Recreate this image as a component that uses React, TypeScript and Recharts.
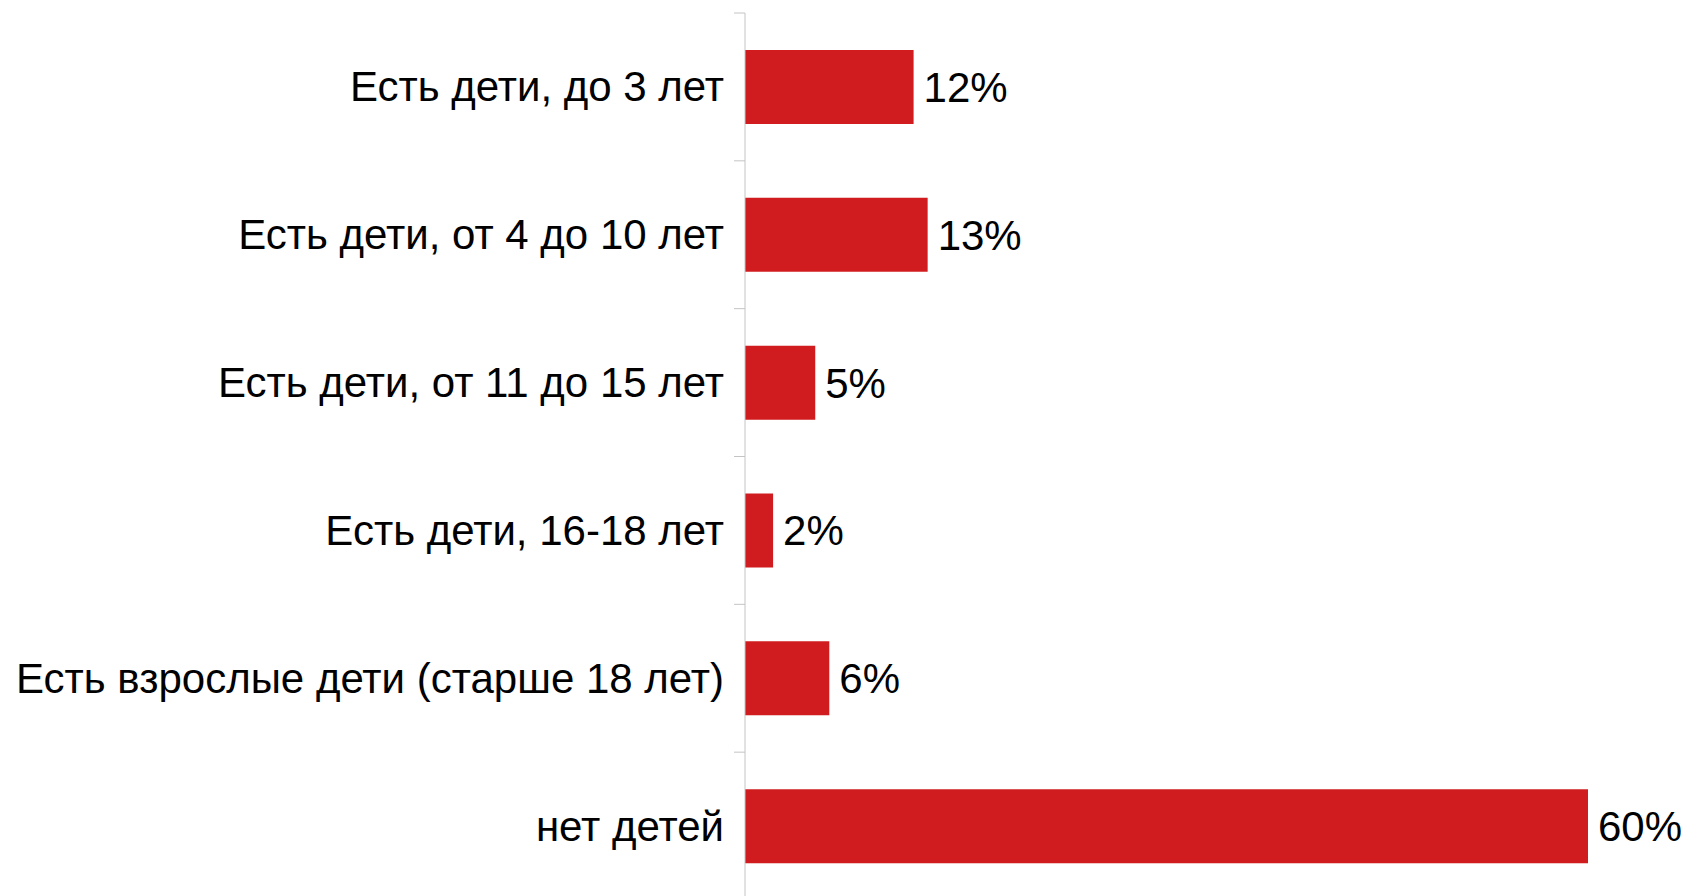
import { Bar, BarChart, LabelList, XAxis, YAxis } from "recharts";

const categories = [
  "Есть дети, до 3 лет",
  "Есть дети, от 4 до 10 лет",
  "Есть дети, от 11 до 15 лет",
  "Есть дети, 16-18 лет",
  "Есть взрослые дети (старше 18 лет)",
  "нет детей",
];
const shares = [12, 13, 5, 2, 6, 60];

const chartData = categories.map((name, i) => ({ name, value: shares[i] }));

const FONT = "Liberation Sans";
const AXIS_GREY = "#c4c4c4";

function CategoryTick(props: any) {
  const { x, y, payload, index, visibleTicksCount } = props;
  const half = payload?.offset ?? 74;
  const lineX1 = x + 10;
  const lineX2 = x + 21;
  const isLast = index === (visibleTicksCount ?? categories.length) - 1;
  return (
    <g>
      <line x1={lineX1} x2={lineX2} y1={y - half} y2={y - half} stroke={AXIS_GREY} />
      {isLast && (
        <line x1={lineX1} x2={lineX2} y1={y + half} y2={y + half} stroke={AXIS_GREY} />
      )}
      <text
        x={x}
        y={y}
        textAnchor="end"
        dominantBaseline="central"
        fill="#000"
        fontSize={42}
        fontFamily={FONT}
      >
        {payload.value}
      </text>
    </g>
  );
}

export default function App() {
  return (
    <div
      style={{
        position: "absolute",
        top: 0,
        left: 0,
        width: 1687,
        height: 896,
        overflow: "hidden",
        background: "#fff",
        fontFamily: FONT,
      }}
    >
      <BarChart
        width={1687}
        height={900}
        data={chartData}
        layout="vertical"
        margin={{ top: 13, right: 99, left: 0, bottom: 0 }}
        barCategoryGap="25%"
      >
        <XAxis type="number" domain={[0, 60]} hide />
        <YAxis
          type="category"
          dataKey="name"
          width={745}
          axisLine={{ stroke: AXIS_GREY }}
          tickLine={false}
          tickSize={11}
          tickMargin={10}
          interval={0}
          tick={<CategoryTick />}
        />
        <Bar dataKey="value" fill="#d01c1f" isAnimationActive={false}>
          <LabelList
            dataKey="value"
            position="right"
            offset={10}
            formatter={(v: any) => `${v}%`}
            fill="#000"
            fontSize={42}
            fontFamily={FONT}
          />
        </Bar>
      </BarChart>
    </div>
  );
}
